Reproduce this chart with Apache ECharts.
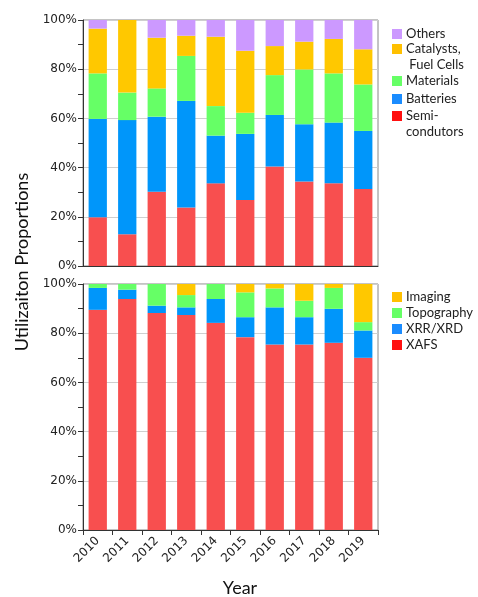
<!DOCTYPE html>
<html>
<head>
<meta charset="utf-8">
<script src="https://cdn.jsdelivr.net/npm/echarts@6/dist/echarts.min.js"></script>
<style>
html, body { margin: 0; padding: 0; background: #fff; }
#main { width: 478px; height: 597px; }
</style>
</head>
<body>
<div id="main"></div>
<script>
var years = ['2010', '2011', '2012', '2013', '2014', '2015', '2016', '2017', '2018', '2019'];

// top panel: research field (% of beamtime)
var semi      = [19.8, 12.9, 30.2, 23.8, 33.6, 26.8, 40.4, 34.3, 33.6, 31.3];
var batteries = [40.0, 46.4, 30.5, 43.3, 19.4, 26.9, 21.0, 23.3, 24.7, 23.6];
var materials = [18.5, 11.2, 11.5, 18.3, 12.0, 8.6, 16.2, 22.3, 20.0, 18.9];
var catalysts = [18.2, 29.5, 20.6, 8.2, 28.2, 25.2, 11.8, 11.3, 14.0, 14.3];
var others    = [3.5, 0.0, 7.2, 6.4, 6.8, 12.5, 10.6, 8.8, 7.7, 11.9];

// bottom panel: technique
var xafs       = [89.5, 93.9, 88.2, 87.4, 84.2, 78.4, 75.4, 75.4, 76.1, 70.0];
var xrr        = [8.9, 3.8, 3.0, 3.1, 9.7, 8.1, 15.1, 11.1, 13.8, 11.1];
var topography = [1.6, 2.3, 8.8, 5.0, 6.1, 10.1, 7.7, 6.7, 8.5, 3.4];
var imaging    = [0.0, 0.0, 0.0, 4.5, 0.0, 3.4, 1.8, 6.8, 1.6, 15.5];

var RED = '#f84f4f', BLUE = '#0096fa', GREEN = '#66ff66', YELLOW = '#ffc800', PURPLE = '#cc99ff';

var myChart = echarts.init(document.getElementById('main'));

function bar(name, data, color, idx) {
    return {
        name: name,
        type: 'bar',
        stack: 's' + idx,
        xAxisIndex: idx,
        yAxisIndex: idx,
        barWidth: '62%',
        itemStyle: { color: color },
        data: data
    };
}

// one legend block per entry so the two-line labels sit like the original
function legendItem(name, label, legColor, top) {
    return {
        orient: 'vertical',
        left: 392,
        top: top,
        padding: 0,
        itemWidth: 10,
        itemHeight: 10,
        itemGap: 0,
        selectedMode: false,
        icon: 'rect',
        formatter: function () { return label; },
        textStyle: { fontFamily: 'Lato', fontSize: 13, color: '#222', lineHeight: 16, padding: [0, 0, 0, -1] },
        data: [{ name: name, itemStyle: { color: legColor } }]
    };
}

function yAxisFor(idx) {
    return {
        type: 'value',
        gridIndex: idx,
        min: 0,
        max: 100,
        interval: 20,
        axisLine: { show: true, lineStyle: { color: '#333' } },
        axisTick: { show: true, length: 5, lineStyle: { color: '#333' } },
        minorTick: { show: true, splitNumber: 2, length: 5, lineStyle: { color: '#333' } },
        splitLine: { show: true, lineStyle: { color: '#cfcfcf' } },
        axisLabel: { formatter: '{value}%', fontFamily: 'DejaVu Sans', fontSize: 12, color: '#222', margin: 6 }
    };
}

var option = {
    animation: false,
    backgroundColor: '#fff',
    grid: [
        { left: 83, top: 20, width: 295, height: 246, show: true, borderColor: '#888', borderWidth: 1 },
        { left: 83, top: 284, width: 295, height: 246, show: true, borderColor: '#888', borderWidth: 1 }
    ],
    xAxis: [
        {
            type: 'category', gridIndex: 0, data: years,
            axisLine: { lineStyle: { color: '#333' } },
            axisTick: { show: false },
            axisLabel: { show: false }
        },
        {
            type: 'category', gridIndex: 1, data: years,
            axisLine: { lineStyle: { color: '#333' } },
            axisTick: { show: true, length: 5, lineStyle: { color: '#333' } },
            axisLabel: { rotate: 45, fontFamily: 'DejaVu Sans', fontSize: 12, color: '#222', margin: 9 }
        }
    ],
    yAxis: [yAxisFor(0), yAxisFor(1)],
    legend: [
        legendItem('Others', 'Others', '#cc99ff', 34 - 8),
        legendItem('Catalysts, Fuel Cells', '\nCatalysts,\n Fuel Cells', '#ffc000', 49 - 24),
        legendItem('Materials', 'Materials', '#66ff66', 81 - 8),
        legendItem('Batteries', 'Batteries', '#1a8cff', 99 - 8),
        legendItem('Semi-condutors', '\nSemi-\ncondutors', '#ff1010', 116 - 24),
        legendItem('Imaging', 'Imaging', '#ffc000', 297 - 8),
        legendItem('Topography', 'Topography', '#66ff66', 313 - 8),
        legendItem('XRR/XRD', 'XRR/XRD', '#1a8cff', 329 - 8),
        legendItem('XAFS', 'XAFS', '#ff1010', 345 - 8)
    ],
    graphic: [
        {
            type: 'text', x: 22, y: 262, rotation: Math.PI / 2,
            style: { text: 'Utilizaiton Proportions', fontFamily: 'Lato', fontSize: 18, fill: '#111', align: 'center', verticalAlign: 'middle' }
        },
        {
            type: 'text', x: 240, y: 588,
            style: { text: 'Year', fontFamily: 'Lato', fontSize: 18, fill: '#111', align: 'center', verticalAlign: 'middle' }
        }
    ],
    series: [
        bar('Semi-condutors', semi, RED, 0),
        bar('Batteries', batteries, BLUE, 0),
        bar('Materials', materials, GREEN, 0),
        bar('Catalysts, Fuel Cells', catalysts, YELLOW, 0),
        bar('Others', others, PURPLE, 0),
        bar('XAFS', xafs, RED, 1),
        bar('XRR/XRD', xrr, BLUE, 1),
        bar('Topography', topography, GREEN, 1),
        bar('Imaging', imaging, YELLOW, 1)
    ]
};

myChart.setOption(option);
</script>
</body>
</html>
